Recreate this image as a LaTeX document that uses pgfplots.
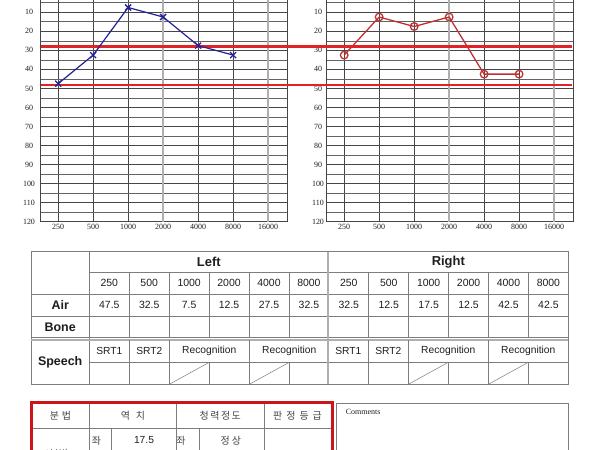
\documentclass[border=0pt]{standalone}
\usepackage{fontspec}
\setmainfont{Liberation Sans}
\newfontfamily\serif{Liberation Serif}
\newfontfamily\kr{Noto Sans CJK KR}
\usepackage{pgfplots}
\pgfplotsset{compat=1.18}
\definecolor{gridc}{RGB}{70,70,70}
\definecolor{gridl}{RGB}{175,175,175}
\definecolor{lblue}{RGB}{35,35,150}
\definecolor{rred}{RGB}{190,50,50}
\definecolor{hred}{RGB}{225,35,40}
\definecolor{tline}{RGB}{125,125,125}
\definecolor{txt}{RGB}{30,30,30}
\definecolor{krtxt}{RGB}{70,70,70}
\definecolor{boxred}{RGB}{205,20,25}
\pgfplotsset{audio/.style={
  scale only axis, width=246.6bp, height=228.5bp,
  xmin=-0.5, xmax=6.55, ymin=0, ymax=120, y dir=reverse,
  xtick={0,1,2,4,5}, xticklabels={250,500,1000,4000,8000},
  extra x ticks={3,6}, extra x tick labels={2000,16000},
  extra x tick style={major grid style={gridl, line width=1.3bp}},
  ytick={10,20,...,120}, minor ytick={5,15,...,115},
  xmajorgrids, ymajorgrids, yminorgrids,
  major grid style={gridc, line width=0.55bp},
  minor grid style={gridc!85, line width=0.55bp},
  major tick length=0pt, minor tick length=0pt,
  axis line style={gridc, line width=0.7bp},
  tick label style={font=\serif\fontsize{8}{9}\selectfont, text=txt},
  /pgf/number format/assume math mode=true,
  xticklabel style={anchor=center, yshift=-5bp},
}}
\begin{document}
\begin{tikzpicture}
\useasboundingbox (0,0) rectangle (600bp,-450bp);
\clip (0,0) rectangle (600bp,-450bp);
\fill[white] (0,0) rectangle (600bp,-450bp);
% right audiogram
\begin{axis}[audio, at={(326.7bp,-221.7bp)}, anchor=south west,
  yticklabel style={anchor=center, xshift=-8.7bp}]
\addplot[rred, line width=1.3bp, mark=o, mark size=3.8bp,
  mark options={fill=white, line width=1.3bp}]
  coordinates {(0,32.5) (1,12.5) (2,17.5) (3,12.5) (4,42.5) (5,42.5)};
\end{axis}
% left audiogram
\begin{axis}[audio, at={(40.7bp,-221.7bp)}, anchor=south west, clip=false,
  yticklabel style={anchor=center, xshift=-11.7bp}]
\addplot[hred, line width=2.5bp] coordinates {(-0.5,28) (14.68,28)};
\addplot[hred, line width=2.5bp] coordinates {(-0.5,48.3) (14.68,48.3)};
\addplot[lblue, line width=1.2bp, mark=x, mark size=4.2bp,
  mark options={line width=1.3bp}]
  coordinates {(0,47.5) (1,32.5) (2,7.5) (3,12.5) (4,27.5) (5,32.5)};
\end{axis}
\begin{scope}[x=1bp, y=-1bp]
% ---------- table 1 ----------
\draw[tline, line width=0.7bp] (31,251.7) rectangle (568.3,384.3);
\draw[tline, line width=0.7bp] (89.3,251.7) -- (89.3,384.3);
\draw[tline, line width=0.7bp] (89.3,272.7) -- (568.3,272.7);
\draw[tline, line width=0.7bp] (31,294.3) -- (568.3,294.3);
\draw[tline, line width=0.7bp] (31,316) -- (568.3,316);
\draw[tline, line width=0.7bp] (31,337.8) -- (568.3,337.8);
\draw[gridl, line width=1.6bp] (31,340.2) -- (568.3,340.2);
\draw[tline, line width=0.7bp] (89.3,362.3) -- (568.3,362.3);
\foreach \x in {129.3,169.3,209.3,249.3,289.3,368.3,408.3,448.3,488.3,528.3}
  \draw[tline, line width=0.7bp] (\x,272.7) -- (\x,337.8);
\foreach \x in {129.3,169.3,249.3,368.3,408.3,488.3}
  \draw[tline, line width=0.7bp] (\x,340.2) -- (\x,384.3);
\foreach \x in {209.3,289.3,448.3,528.3}
  \draw[tline, line width=0.7bp] (\x,362.3) -- (\x,384.3);
\foreach \x in {169.3,249.3,408.3,488.3}
  \draw[tline, line width=0.5bp] (\x,384.3) -- (\x+40,362.3);
\draw[gridl, line width=1.8bp] (328.3,251.7) -- (328.3,384.3);
\begin{scope}[every node/.style={text=txt, inner sep=0pt}]
\node[font=\bfseries\fontsize{13}{14}\selectfont] at (208.8,261.8) {Left};
\node[font=\bfseries\fontsize{13}{14}\selectfont] at (448.3,261.8) {Right};
\node[font=\bfseries\fontsize{12.5}{14}\selectfont] at (60.2,304.6) {Air};
\node[font=\bfseries\fontsize{12.5}{14}\selectfont] at (60.2,326.8) {Bone};
\node[font=\bfseries\fontsize{12.5}{14}\selectfont] at (60.2,362) {Speech};
\foreach \f [count=\i from 0] in {250,500,1000,2000,4000,8000,250,500,1000,2000,4000,8000}
  \node[font=\fontsize{10.5}{12}\selectfont] at (109.3+39.92*\i,283.3) {\f};
\foreach \v [count=\i from 0] in {47.5,32.5,7.5,12.5,27.5,32.5,32.5,12.5,17.5,12.5,42.5,42.5}
  \node[font=\fontsize{10.5}{12}\selectfont] at (109.3+39.92*\i,305) {\v};
\foreach \o in {0,239}{
  \node[font=\fontsize{10.3}{12}\selectfont] at (109.3+\o,351) {SRT1};
  \node[font=\fontsize{10.3}{12}\selectfont] at (149.3+\o,351) {SRT2};
  \node[font=\fontsize{10.3}{12}\selectfont] at (209.3+\o,351) {Recognition};
  \node[font=\fontsize{10.3}{12}\selectfont] at (289.3+\o,351) {Recognition};
}
\end{scope}
% ---------- table 2 ----------
\draw[tline, line width=0.7bp] (31.7,428.3) -- (332,428.3);
\foreach \x in {89.3,176.7,264}
  \draw[tline, line width=0.7bp] (\x,402.7) -- (\x,460);
\foreach \x in {111,199}
  \draw[tline, line width=0.7bp] (\x,428.3) -- (\x,460);
\draw[boxred, line width=2.6bp] (31.7,402.7) rectangle (332.3,470);
\begin{scope}[every node/.style={text=krtxt, inner sep=0pt, font=\kr\fontsize{10}{11}\selectfont}]
\node at (60.5,415.9) {분\kern3bp 법};
\node at (133,415.9) {역\kern6bp 치};
\node at (220.3,415.9) {청\kern1.5bp 력\kern1.5bp 정\kern1.5bp 도};
\node at (297.5,415.9) {판\kern4bp 정\kern4bp 등\kern4bp 급};
\node at (96.5,440.5) {좌};
\node at (181,440.5) {좌};
\node at (230.8,440.5) {정\kern2bp 상};
\node at (56,453.5) {6분법};
\node[font=\fontsize{10.3}{12}\selectfont, text=txt] at (144,440.5) {17.5};
\end{scope}
% ---------- comments ----------
\draw[tline, line width=0.7bp] (336,403.3) rectangle (568.3,470);
\node[anchor=west, inner sep=0pt, text=txt, font=\serif\fontsize{8}{9}\selectfont] at (345.7,412.3) {Comments};
\end{scope}
\end{tikzpicture}
\end{document}
